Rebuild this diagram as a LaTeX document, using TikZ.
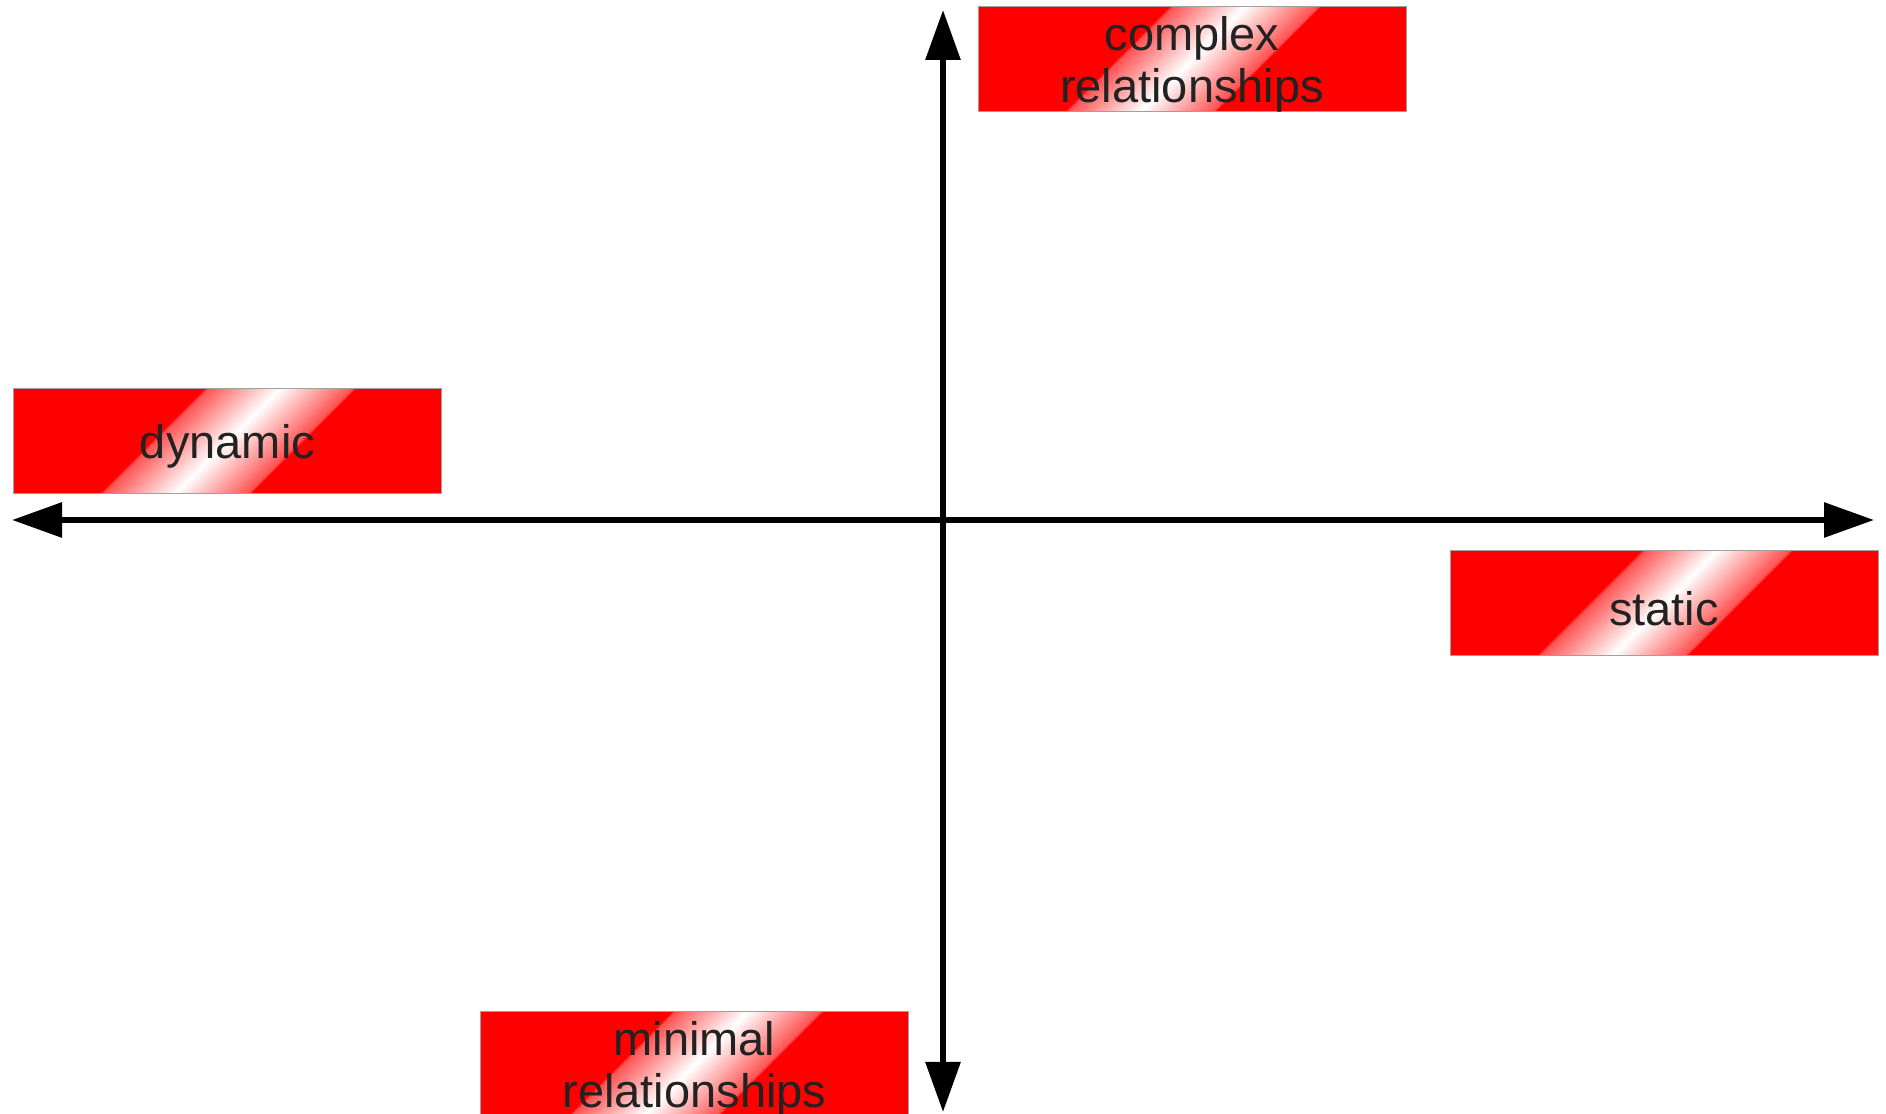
\documentclass[tikz,border=0pt]{standalone}
\usepackage{fontspec}
\setmainfont{Liberation Sans}
\usetikzlibrary{arrows.meta}
\definecolor{txtc}{HTML}{222222}
\definecolor{bordc}{HTML}{A0A0A0}
\pgfdeclarehorizontalshading{stripe}{100bp}{color(0bp)=(red); color(44.4bp)=(red); color(44.6bp)=(red!68!white); color(46bp)=(red!50!white); color(50bp)=(white); color(54bp)=(red!50!white); color(55.4bp)=(red!68!white); color(55.6bp)=(red); color(100bp)=(red)}
\newcommand\lowtxt[1]{\raisebox{-5pt}[\height][\depth]{#1}}
\begin{document}
\begin{tikzpicture}[x=1pt,y=1pt,
  lbl/.style={draw=bordc, line width=1pt, fill=red, minimum width=428pt, minimum height=105pt,
    inner sep=0pt, align=center, text=txtc, font=\fontsize{47}{52}\selectfont,
    path picture={\shade[shading=stripe, shading angle=-45]
      ([shift={(-240,-240)}]path picture bounding box.center) rectangle
      ([shift={(240,240)}]path picture bounding box.center);}},
  axis/.style={line width=6pt, {Triangle[length=50pt,width=34pt]}-{Triangle[length=50pt,width=34pt]}}]
\useasboundingbox (0,0) rectangle (1886,1113);
\coordinate (T) at (943,1103);
\coordinate (B) at (943,1);
\coordinate (L) at (12,593);
\coordinate (R) at (1874,593);
\draw[axis] (L) -- (R);
\draw[axis] (B) -- (T);
\node[lbl] (complex) at (1192,1053.5) {\lowtxt{complex}\\\lowtxt{relationships}};
\node[lbl] (dynamic) at (227.5,672) {\lowtxt{dynamic}};
\node[lbl] (static) at (1664,509.5) {\lowtxt{static}};
\node[lbl] (minimal) at (694.5,48.5) {\lowtxt{minimal}\\\lowtxt{relationships}};
\end{tikzpicture}
\end{document}
